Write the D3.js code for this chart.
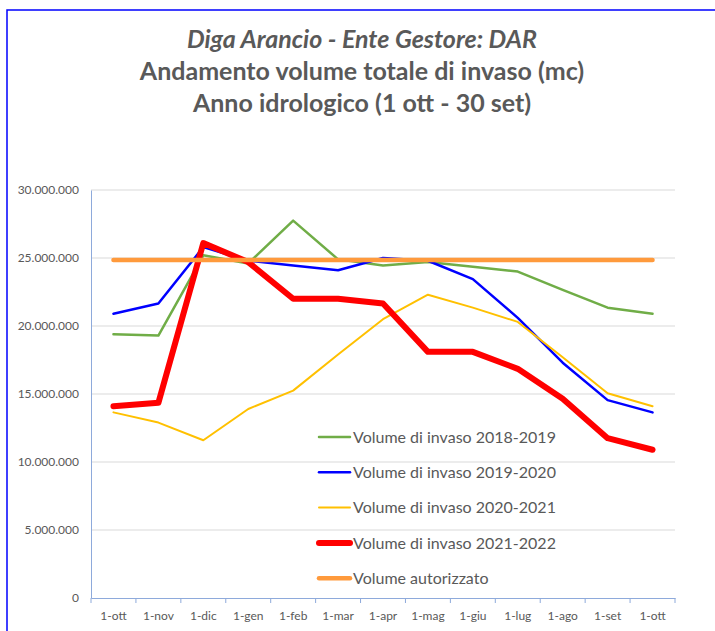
<!DOCTYPE html>
<html>
<head>
<meta charset="utf-8">
<script src="https://cdn.jsdelivr.net/npm/d3@7"></script>
<style>
  body { margin: 0; background: #fff; }
  text { font-family: Lato, "Open Sans", sans-serif; }
</style>
</head>
<body>
<div id="chart"></div>
<script>
// month labels of the hydrological year
const months = ["1-ott", "1-nov", "1-dic", "1-gen", "1-feb", "1-mar", "1-apr",
    "1-mag", "1-giu", "1-lug", "1-ago", "1-set", "1-ott "];

// volumes in mc
const vol1819 = [19400000, 19300000, 25200000, 24600000, 27750000, 24900000, 24450000,
    24700000, 24350000, 24000000, 22650000, 21350000, 20900000];
const vol1920 = [20900000, 21650000, 25800000, 24800000, 24450000, 24100000, 25000000,
    24800000, 23450000, 20600000, 17300000, 14550000, 13650000];
const vol2021 = [13650000, 12900000, 11600000, 13900000, 15250000, 17900000, 20500000,
    22300000, 21350000, 20300000, 17700000, 15050000, 14100000];
const vol2122 = [14100000, 14350000, 26100000, 24700000, 22000000, 22000000, 21650000,
    18100000, 18100000, 16850000, 14650000, 11750000, 10900000];
const volAut = months.map(() => 24850000);

const yTicks = [0, 5000000, 10000000, 15000000, 20000000, 25000000, 30000000];

const series = [
    { name: "Volume di invaso 2018-2019", values: vol1819, color: "#70ad47", width: 2.5 },
    { name: "Volume di invaso 2019-2020", values: vol1920, color: "#0000ff", width: 2.5 },
    { name: "Volume di invaso 2020-2021", values: vol2021, color: "#ffc000", width: 2 },
    { name: "Volume di invaso 2021-2022", values: vol2122, color: "#ff0000", width: 6 },
    { name: "Volume autorizzato", values: volAut, color: "#ff9a3c", width: 4.5 }
];

const W = 715, H = 631;
const plotL = 91, plotR = 675, plotT = 190, plotB = 598;

const svg = d3.select("#chart").append("svg")
    .attr("width", W)
    .attr("height", H);

svg.append("rect")
    .attr("x", 7).attr("y", 10)
    .attr("width", 740).attr("height", 660)
    .attr("fill", "none")
    .attr("stroke", "#0000ff")
    .attr("stroke-width", 1.5);

// titles
const titles = [
    { t: "Diga Arancio - Ente Gestore: DAR", italic: true },
    { t: "Andamento volume totale di invaso (mc)", italic: false },
    { t: "Anno idrologico (1 ott - 30 set)", italic: false }
];
svg.selectAll(".title").data(titles).enter().append("text")
    .attr("x", 362)
    .attr("y", (d, i) => 48 + i * 32)
    .attr("text-anchor", "middle")
    .style("font-size", "25px")
    .style("font-weight", "bold")
    .style("font-style", d => d.italic ? "italic" : "normal")
    .style("fill", "#595959")
    .text(d => d.t);

const x = d3.scaleBand().domain(months).range([plotL, plotR]);
const y = d3.scaleLinear().domain([0, 30000000]).range([plotB, plotT]);

// gridlines
svg.selectAll(".grid").data(yTicks.slice(1)).enter().append("line")
    .attr("x1", plotL).attr("x2", plotR)
    .attr("y1", d => y(d)).attr("y2", d => y(d))
    .attr("stroke", "#d9d9d9")
    .attr("stroke-width", 1);

const fmt = d3.formatLocale({ decimal: ",", thousands: ".", grouping: [3], currency: ["", ""] }).format(",");

const yAxis = svg.append("g")
    .attr("transform", `translate(${plotL},0)`)
    .call(d3.axisLeft(y).tickValues(yTicks).tickFormat(fmt).tickSize(0).tickPadding(12));
yAxis.select(".domain").attr("stroke", "#8eaadb");
yAxis.selectAll("text").style("font-size", "12px").style("fill", "#595959")
    .style("font-family", "Lato, sans-serif");

const xAxis = svg.append("g")
    .attr("transform", `translate(0,${plotB})`)
    .call(d3.axisBottom(x).tickSize(0).tickPadding(13));
xAxis.select(".domain").attr("stroke", "#8eaadb");
xAxis.selectAll("text").style("font-size", "12px").style("fill", "#595959")
    .style("font-family", "Lato, sans-serif");

// tick marks between categories
const bounds = months.map(m => x(m)).concat([plotR]);
svg.selectAll(".xtick").data(bounds).enter().append("line")
    .attr("x1", d => d).attr("x2", d => d)
    .attr("y1", plotB).attr("y2", plotB + 5)
    .attr("stroke", "#8eaadb");

const line = d3.line()
    .x((d, i) => x(months[i]) + x.bandwidth() / 2)
    .y(d => y(d));

svg.selectAll(".series").data(series).enter().append("path")
    .attr("d", d => line(d.values))
    .attr("fill", "none")
    .attr("stroke", d => d.color)
    .attr("stroke-width", d => d.width)
    .attr("stroke-linejoin", "round")
    .attr("stroke-linecap", "round");

// legend
const legend = svg.selectAll(".legend").data(series).enter().append("g")
    .attr("transform", (d, i) => `translate(319,${437 + i * 35.3})`);
legend.append("line")
    .attr("x1", 0).attr("x2", 31)
    .attr("stroke", d => d.color)
    .attr("stroke-width", d => d.width)
    .attr("stroke-linecap", "round");
legend.append("text")
    .attr("x", 34)
    .attr("dy", "0.35em")
    .style("font-size", "16px")
    .style("fill", "#595959")
    .text(d => d.name);
</script>
</body>
</html>
